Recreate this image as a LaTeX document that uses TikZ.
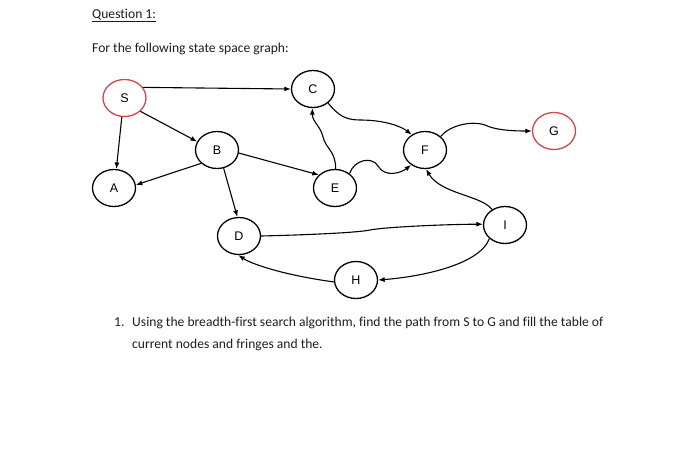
\documentclass[tikz,border=0pt]{standalone}
\usepackage{fontspec}
\setmainfont[Ligatures=CommonOff]{Carlito}
\newfontfamily\nodefont{Liberation Sans}
\usetikzlibrary{shapes.geometric,arrows.meta}
\definecolor{redring}{HTML}{D9434A}
\definecolor{txt}{HTML}{1E1E1E}
\tikzset{
  st/.style={ellipse,draw=black,line width=1.3pt,minimum width=43pt,minimum height=37pt,inner sep=0pt,font=\nodefont\fontsize{12.5}{14}\selectfont},
  goal/.style={st,draw=redring},
  edge/.style={line width=1.1pt,-{Latex[length=6.5pt,width=5pt]}},
  body/.style={anchor=base west,inner sep=0pt,text=txt,font=\fontsize{13.6}{16}\selectfont}
}
\begin{document}
\begin{tikzpicture}[x=1pt,y=-1pt]
\useasboundingbox[fill=white] (0,0) rectangle (700,455);
\node[body] (q) at (92,18) {\underline{Question 1:}};
\node[body] (f) at (92,52) {For the following state space graph:};
\node[body] (n1) at (114,326) {1.};
\node[body] (l1) at (132,326) {Using the breadth-first search algorithm, find the path from S to G and fill the table of};
\node[body] (l2) at (132,348) {current nodes and fringes and the.};

\node[goal] (S) at (124.5,98) {S};
\node[st] (C) at (313,89) {C};
\node[st] (B) at (217,150) {B};
\node[st] (A) at (114,188) {A};
\node[st] (E) at (335,188) {E};
\node[st] (F) at (425,150) {F};
\node[goal] (G) at (554,131) {G};
\node[st] (D) at (239,236) {D};
\node[st] (I) at (505,225) {I};
\node[st] (H) at (356,280) {H};

\draw[edge] (S.30) -- (C.west);
\draw[edge] (S.-40) -- (B.157);
\draw[edge] (S.-98) -- (A.83);
\draw[edge] (B.-140) -- (A.8);
\draw[edge] (B.-8) -- (E.141);
\draw[edge] (B.-70) -- (D.95);
\draw[edge] (E.88) .. controls +(0,-18) and +(3,12) .. (323,137) .. controls +(-3,-12) and +(0,14) .. (C.-92);
\draw[edge] (C.-43) .. controls +(10,12) and +(-15,0) .. (360,120) .. controls +(25,0) and +(-10,-8) .. (F.131);
\draw[edge] (E.45) .. controls +(5,-14) and +(-6,-10) .. (378,166) .. controls +(7,12) and +(-10,8) .. (F.-133);
\draw[edge] (F.41) .. controls +(8,-10) and +(-15,-5) .. (485,125) .. controls +(10,5) and +(-20,0) .. (G.west);
\draw[edge] (I.130) .. controls +(-10,-14) and +(15,25) .. (F.-87);
\draw[edge] (D.east) .. controls +(40,-1) and +(-15,3) .. (370,230) .. controls +(15,-3) and +(-35,0) .. (I.178);
\draw[edge] (I.-139) .. controls +(-10,27) and +(40,-3) .. (H.east);
\draw[edge] (H.185) .. controls +(-45,-6) and +(15,10) .. (D.-92);
\end{tikzpicture}
\end{document}
